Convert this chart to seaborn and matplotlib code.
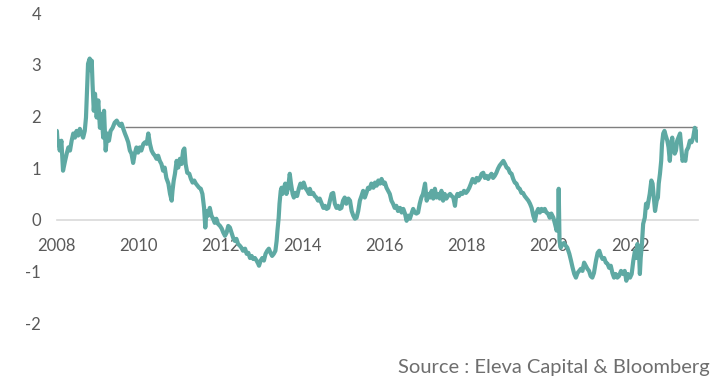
import numpy as np
import pandas as pd
import matplotlib
matplotlib.use("Agg")
import matplotlib.pyplot as plt
import seaborn as sns

# =====================================================
# DATA
# =====================================================

years = [
    2008.00, 2008.02, 2008.03, 2008.07, 2008.11, 2008.15, 2008.20, 2008.24, 2008.28, 2008.32,
    2008.36, 2008.40, 2008.44, 2008.48, 2008.52, 2008.56, 2008.60, 2008.64, 2008.68, 2008.71,
    2008.74, 2008.76, 2008.80, 2008.83, 2008.85, 2008.87, 2008.90, 2008.93, 2008.97, 2009.01,
    2009.05, 2009.09, 2009.13, 2009.15, 2009.19, 2009.23, 2009.27, 2009.31, 2009.36, 2009.41,
    2009.46, 2009.50, 2009.54, 2009.58, 2009.62, 2009.66, 2009.70, 2009.74, 2009.78, 2009.82,
    2009.86, 2009.90, 2009.94, 2009.98, 2010.02, 2010.06, 2010.11, 2010.15,
    2010.19, 2010.23, 2010.27, 2010.31, 2010.35, 2010.39, 2010.43, 2010.47, 2010.51, 2010.55,
    2010.59, 2010.63, 2010.67, 2010.72, 2010.76, 2010.80, 2010.82, 2010.85, 2010.88, 2010.92,
    2010.96, 2011.00, 2011.04, 2011.08, 2011.11, 2011.14, 2011.18, 2011.23, 2011.27, 2011.31,
    2011.35, 2011.39, 2011.43, 2011.47, 2011.51, 2011.55, 2011.59, 2011.62, 2011.65, 2011.69,
    2011.73, 2011.77, 2011.81, 2011.85, 2011.89, 2011.93, 2011.98, 2012.02, 2012.06, 2012.10,
    2012.14, 2012.18, 2012.22,
    2012.26, 2012.30, 2012.34, 2012.38, 2012.42, 2012.46, 2012.50, 2012.54, 2012.59, 2012.63,
    2012.67, 2012.71, 2012.75, 2012.79, 2012.83, 2012.87, 2012.91, 2012.93, 2012.97, 2013.01,
    2013.05, 2013.09, 2013.13, 2013.17, 2013.21, 2013.25, 2013.29, 2013.33, 2013.36, 2013.38,
    2013.41, 2013.43, 2013.46, 2013.48, 2013.50, 2013.54, 2013.57, 2013.60, 2013.64, 2013.68,
    2013.71, 2013.75, 2013.78, 2013.82, 2013.86, 2013.90, 2013.94, 2013.98, 2014.02, 2014.06,
    2014.11, 2014.15,
    2014.17, 2014.21, 2014.25, 2014.29, 2014.33, 2014.37, 2014.41, 2014.46, 2014.50, 2014.54,
    2014.58, 2014.62, 2014.66, 2014.70, 2014.74, 2014.78, 2014.82, 2014.86, 2014.90, 2014.94,
    2014.98, 2015.02, 2015.06, 2015.11, 2015.15, 2015.19, 2015.23, 2015.27, 2015.31, 2015.35,
    2015.39, 2015.43, 2015.47, 2015.51, 2015.55, 2015.59, 2015.63, 2015.67, 2015.72, 2015.76,
    2015.80, 2015.84, 2015.88, 2015.92, 2015.96, 2016.00, 2016.04,
    2016.08, 2016.12, 2016.16, 2016.20, 2016.24, 2016.28, 2016.32, 2016.37, 2016.41, 2016.45,
    2016.49, 2016.53, 2016.57, 2016.61, 2016.65, 2016.69, 2016.73, 2016.77, 2016.81, 2016.85,
    2016.89, 2016.93, 2016.98, 2017.02, 2017.06, 2017.10, 2017.14, 2017.18, 2017.22, 2017.26,
    2017.30, 2017.34, 2017.38, 2017.42, 2017.46, 2017.50, 2017.54, 2017.59, 2017.63, 2017.67,
    2017.71, 2017.73, 2017.77, 2017.81, 2017.85, 2017.89, 2017.93, 2017.98, 2018.02, 2018.06,
    2018.10, 2018.14, 2018.18,
    2018.20, 2018.24, 2018.28, 2018.32, 2018.36, 2018.40, 2018.44, 2018.48, 2018.52, 2018.56,
    2018.60, 2018.64, 2018.68, 2018.72, 2018.76, 2018.80, 2018.85, 2018.89, 2018.93, 2018.97,
    2019.01, 2019.05, 2019.09, 2019.13, 2019.17, 2019.21, 2019.25, 2019.29, 2019.33, 2019.37,
    2019.41, 2019.46, 2019.50, 2019.54, 2019.58, 2019.62, 2019.66, 2019.70, 2019.74, 2019.78,
    2019.82, 2019.86, 2019.90, 2019.94, 2019.98, 2020.02,
    2020.06, 2020.11, 2020.15, 2020.19, 2020.23, 2020.24, 2020.26, 2020.29, 2020.33, 2020.37,
    2020.41, 2020.45, 2020.50, 2020.54, 2020.58, 2020.62, 2020.66, 2020.70, 2020.74, 2020.78,
    2020.82, 2020.86, 2020.90, 2020.94, 2020.98, 2021.02, 2021.06, 2021.10, 2021.15, 2021.19,
    2021.23, 2021.27, 2021.31, 2021.35, 2021.39, 2021.43, 2021.47, 2021.51, 2021.55, 2021.59,
    2021.63, 2021.67, 2021.71, 2021.76,
    2021.81, 2021.85, 2021.89, 2021.93, 2021.98, 2022.02, 2022.06, 2022.10, 2022.14, 2022.16,
    2022.20, 2022.22, 2022.24, 2022.27, 2022.30, 2022.34, 2022.37, 2022.40, 2022.43, 2022.46,
    2022.50, 2022.53, 2022.56, 2022.59, 2022.63, 2022.66, 2022.68, 2022.71, 2022.74, 2022.76,
    2022.79, 2022.82, 2022.85, 2022.89, 2022.92, 2022.95, 2022.98, 2023.01, 2023.03, 2023.07,
    2023.10, 2023.13, 2023.16, 2023.20, 2023.23, 2023.26, 2023.29, 2023.33, 2023.36, 2023.40,
    2023.44, 2023.48, 2023.52, 2023.56, 2023.59, 2023.62,
]

spread = [
    1.72, 1.47, 1.53, 1.34, 1.53, 0.95, 1.14, 1.28, 1.40, 1.34,
    1.53, 1.67, 1.59, 1.72, 1.63, 1.76, 1.67, 1.59, 1.72, 1.98,
    2.63, 3.02, 3.12, 2.89, 3.08, 2.63, 2.11, 2.44, 1.98, 2.31,
    1.78, 2.05, 1.59, 2.11, 1.34, 1.67, 1.53, 1.72, 1.78, 1.88,
    1.92, 1.86, 1.82, 1.86, 1.76, 1.67, 1.59, 1.50, 1.34, 1.28,
    1.10, 1.28, 1.40, 1.30, 1.40, 1.34, 1.47, 1.50,
    1.47, 1.67, 1.47, 1.34, 1.28, 1.24, 1.18, 1.24, 1.14, 1.08,
    0.95, 1.01, 0.81, 0.70, 0.50, 0.37, 0.56, 0.76, 0.89, 1.14,
    1.01, 1.18, 1.08, 1.34, 1.38, 1.08, 0.91, 0.89, 0.79, 0.72,
    0.76, 0.70, 0.66, 0.62, 0.60, 0.50, 0.23, -0.15, 0.17, 0.08,
    0.23, 0.08, 0.02, -0.06, 0.02, -0.08, -0.12, -0.17, -0.25, -0.31,
    -0.25, -0.12, -0.15,
    -0.25, -0.35, -0.41, -0.37, -0.47, -0.50, -0.54, -0.60, -0.56, -0.66,
    -0.64, -0.74, -0.70, -0.76, -0.74, -0.79, -0.85, -0.89, -0.79, -0.74,
    -0.79, -0.66, -0.60, -0.56, -0.64, -0.70, -0.66, -0.60, -0.41, -0.21,
    0.04, 0.31, 0.56, 0.62, 0.50, 0.62, 0.70, 0.50, 0.62, 0.89,
    0.70, 0.50, 0.43, 0.52, 0.46, 0.60, 0.70, 0.62, 0.72, 0.62,
    0.56, 0.50,
    0.60, 0.50, 0.52, 0.46, 0.43, 0.37, 0.41, 0.31, 0.23, 0.27,
    0.21, 0.23, 0.37, 0.50, 0.52, 0.31, 0.23, 0.27, 0.21, 0.23,
    0.37, 0.43, 0.31, 0.41, 0.37, 0.17, 0.08, 0.02, 0.04, 0.17,
    0.37, 0.46, 0.56, 0.43, 0.52, 0.62, 0.60, 0.70, 0.62, 0.72,
    0.66, 0.76, 0.70, 0.79, 0.70, 0.72, 0.62,
    0.56, 0.50, 0.37, 0.31, 0.23, 0.27, 0.17, 0.23, 0.14, 0.21,
    0.12, -0.02, 0.08, 0.02, 0.12, 0.21, 0.14, 0.12, 0.14, 0.31,
    0.43, 0.50, 0.70, 0.37, 0.50, 0.43, 0.56, 0.41, 0.60, 0.43,
    0.50, 0.41, 0.56, 0.37, 0.50, 0.41, 0.46, 0.50, 0.46, 0.43,
    0.27, 0.41, 0.50, 0.46, 0.52, 0.50, 0.56, 0.52, 0.56, 0.62,
    0.70, 0.79, 0.76,
    0.72, 0.81, 0.76, 0.81, 0.89, 0.91, 0.81, 0.85, 0.79, 0.85,
    0.89, 0.81, 0.85, 0.91, 0.99, 1.05, 1.10, 1.14, 1.08, 1.01,
    0.99, 0.91, 0.89, 0.79, 0.72, 0.70, 0.62, 0.60, 0.52, 0.52,
    0.46, 0.41, 0.37, 0.31, 0.23, 0.08, -0.02, 0.14, 0.21, 0.14,
    0.21, 0.17, 0.21, 0.14, 0.12, 0.04,
    0.12, 0.04, -0.08, -0.21, 0.04, 0.60, -0.41, -0.54, -0.47, -0.45,
    -0.50, -0.54, -0.66, -0.79, -0.93, -1.05, -1.12, -1.03, -0.99, -0.95,
    -0.99, -0.83, -0.89, -0.95, -0.99, -1.09, -1.12, -1.03, -0.79, -0.64,
    -0.60, -0.70, -0.76, -0.74, -0.83, -0.85, -0.93, -0.89, -1.03, -1.12,
    -1.05, -1.12, -1.09, -0.99,
    -1.05, -0.99, -1.18, -1.05, -1.12, -1.05, -0.79, -0.60, -0.74, -0.47,
    -0.66, -1.05, -0.74, -0.47, -0.08, 0.04, 0.31, 0.23, 0.37, 0.50,
    0.76, 0.70, 0.43, 0.17, 0.37, 0.43, 0.70, 0.89, 1.14, 1.47,
    1.67, 1.72, 1.63, 1.53, 1.40, 1.14, 1.47, 1.59, 1.40, 1.28,
    1.34, 1.53, 1.59, 1.67, 1.40, 1.14, 1.20, 1.14, 1.34, 1.40,
    1.53, 1.50, 1.59, 1.78, 1.72, 1.53,
]

ref_level = 1.8
ref_start = 2009.65

year_ticks = [2008, 2010, 2012, 2014, 2016, 2018, 2020, 2022]
value_ticks = [-2, -1, 0, 1, 2, 3, 4]
source_text = "Source : Eleva Capital & Bloomberg"

df = pd.DataFrame({"year": years, "spread": spread})

# =====================================================
# STYLE
# =====================================================

sns.set_style("white")
plt.rcParams["font.family"] = ["Lato", "DejaVu Sans"]

line_color = "#5ea9a3"
text_color = "#595959"

# =====================================================
# PLOT
# =====================================================

fig = plt.figure(figsize=(7.2, 3.86), dpi=100)
ax = fig.add_axes([0.079, 0.163, 0.89, 0.803])

ax.hlines(ref_level, ref_start, years[-1], color="#7f7f7f", lw=1.0, zorder=1)

sns.lineplot(
    data=df,
    x="year",
    y="spread",
    ax=ax,
    color=line_color,
    lw=3.0,
    sort=False,
    estimator=None,
    zorder=3,
)

ax.set_xlim(2008, 2023.63)
ax.set_ylim(-2, 4)

ax.set_xticks(year_ticks)
ax.set_xticklabels([str(y) for y in year_ticks])
ax.set_yticks(value_ticks)
ax.set_yticklabels([str(v) for v in value_ticks])

ax.set_xlabel("")
ax.set_ylabel("")

for side in ["top", "right", "left"]:
    ax.spines[side].set_visible(False)
ax.spines["bottom"].set_position(("data", 0))
ax.spines["bottom"].set_color("#d9d9d9")
ax.spines["bottom"].set_linewidth(1.2)
ax.spines["bottom"].set_zorder(0)

ax.tick_params(axis="x", length=0, pad=13, labelsize=12, labelcolor=text_color)
ax.tick_params(axis="y", length=0, pad=11.5, labelsize=12, labelcolor=text_color)

fig.text(0.986, 0.047, source_text, ha="right", va="center",
         fontsize=14.5, color="#6e6e6e")

plt.savefig("out.png", dpi=100)
plt.close()
